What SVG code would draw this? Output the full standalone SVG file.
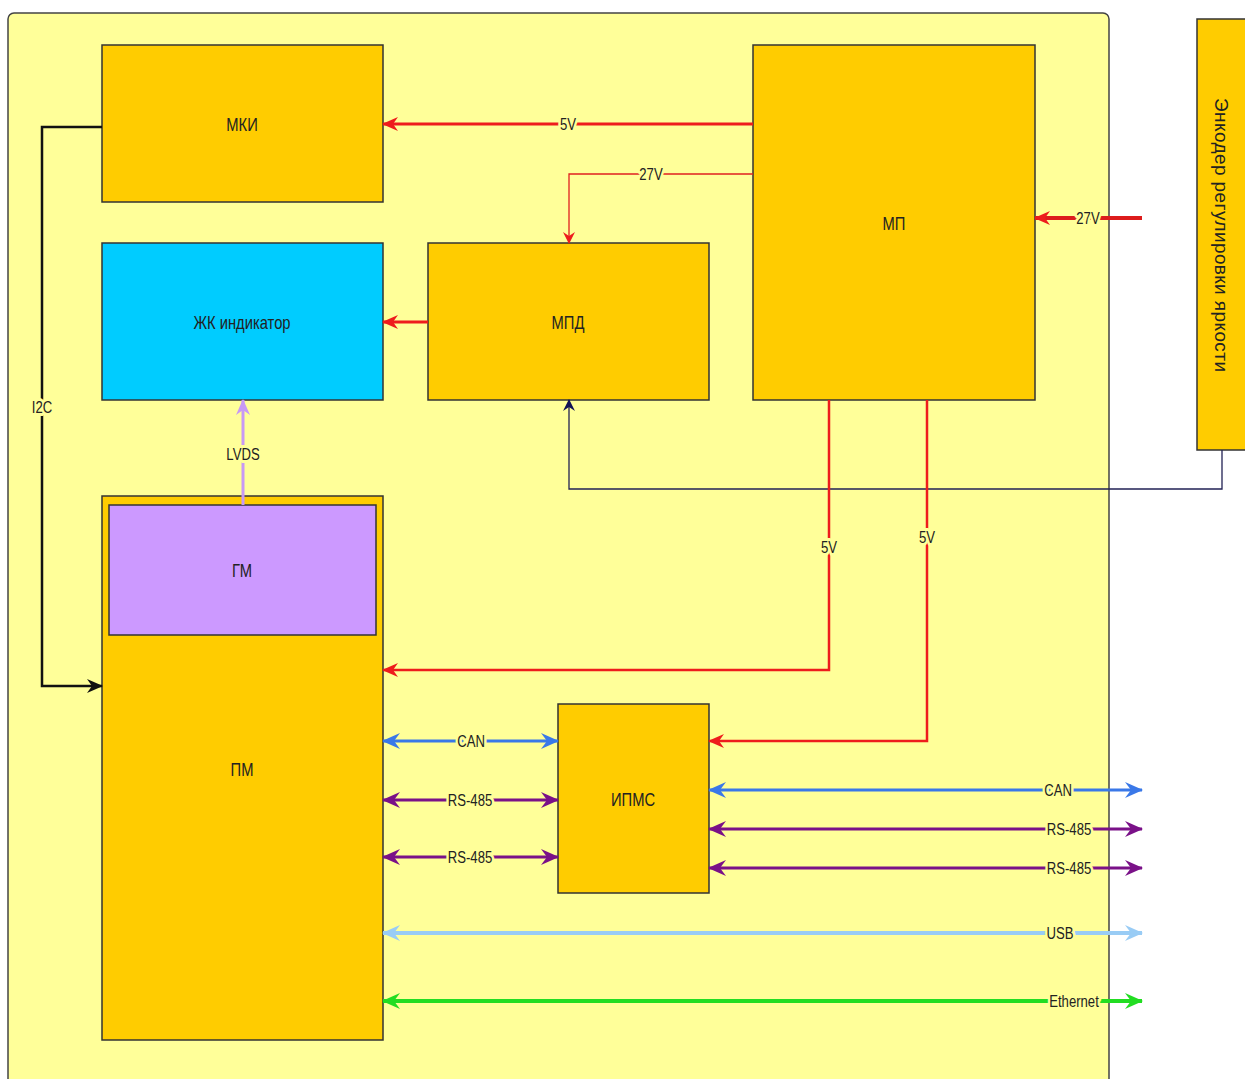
<svg xmlns="http://www.w3.org/2000/svg" width="1245" height="1079" viewBox="0 0 1245 1079">
<style>
.box{fill:#ffcc00;stroke:#333;stroke-width:1.5}
.nt{font-family:"Liberation Sans",Arial,sans-serif;font-size:18px;fill:#222;text-anchor:middle;dominant-baseline:central}
.lb{font-family:"Liberation Sans",Arial,sans-serif;font-size:16px;fill:#222;text-anchor:middle;dominant-baseline:central;paint-order:stroke;stroke:#ffff99;stroke-width:6px;stroke-linejoin:round}
.c{fill:none}
</style>
<defs>
<marker id="aR" markerUnits="userSpaceOnUse" markerWidth="16" markerHeight="14" refX="15" refY="7" orient="auto-start-reverse"><path d="M0,0 L16,7 L0,14 L5,7z" fill="#ee1c1c"/></marker>
<marker id="aRs" markerUnits="userSpaceOnUse" markerWidth="12" markerHeight="12" refX="11" refY="6" orient="auto-start-reverse"><path d="M0,0 L12,6 L0,12 L4,6z" fill="#ee1c1c"/></marker>
<marker id="aK" markerUnits="userSpaceOnUse" markerWidth="16" markerHeight="14" refX="15" refY="7" orient="auto-start-reverse"><path d="M0,0 L16,7 L0,14 L5,7z" fill="#111"/></marker>
<marker id="aN" markerUnits="userSpaceOnUse" markerWidth="12" markerHeight="12" refX="11" refY="6" orient="auto-start-reverse"><path d="M0,0 L12,6 L0,12 L4,6z" fill="#111155"/></marker>
<marker id="aL" markerUnits="userSpaceOnUse" markerWidth="16" markerHeight="14" refX="15" refY="7" orient="auto-start-reverse"><path d="M0,0 L16,7 L0,14 L5,7z" fill="#c899f5"/></marker>
<marker id="aB" markerUnits="userSpaceOnUse" markerWidth="18" markerHeight="16" refX="17" refY="8" orient="auto-start-reverse"><path d="M0,0 L18,8 L0,16 L6,8z" fill="#3a78e8"/></marker>
<marker id="aP" markerUnits="userSpaceOnUse" markerWidth="18" markerHeight="16" refX="17" refY="8" orient="auto-start-reverse"><path d="M0,0 L18,8 L0,16 L6,8z" fill="#7a1188"/></marker>
<marker id="aU" markerUnits="userSpaceOnUse" markerWidth="18" markerHeight="16" refX="17" refY="8" orient="auto-start-reverse"><path d="M0,0 L18,8 L0,16 L6,8z" fill="#99ccf5"/></marker>
<marker id="aG" markerUnits="userSpaceOnUse" markerWidth="18" markerHeight="16" refX="17" refY="8" orient="auto-start-reverse"><path d="M0,0 L18,8 L0,16 L6,8z" fill="#22dd22"/></marker>
</defs>
<rect width="1245" height="1079" fill="#fff"/>
<rect id="container" x="8" y="13" width="1101" height="1090" rx="6" fill="#ffff99" stroke="#444" stroke-width="1.5"/>

<g id="nodes">
<g id="mki"><rect class="box" x="102" y="45" width="281" height="157"/><text class="nt" transform="translate(242 124) scale(.82 1)">МКИ</text></g>
<g id="lcd"><rect class="box" x="102" y="243" width="281" height="157" style="fill:#00ccff"/><text class="nt" transform="translate(242 322) scale(.82 1)">ЖК индикатор</text></g>
<g id="mpd"><rect class="box" x="428" y="243" width="281" height="157"/><text class="nt" transform="translate(568 322) scale(.82 1)">МПД</text></g>
<g id="mp"><rect class="box" x="753" y="45" width="282" height="355"/><text class="nt" transform="translate(894 223) scale(.82 1)">МП</text></g>
<g id="encoder"><rect class="box" x="1197" y="19" width="60" height="431"/><text x="1221" y="235" transform="rotate(90 1221 235)" textLength="274" lengthAdjust="spacing" style="font-family:'Liberation Sans',Arial,sans-serif;font-size:19px;fill:#222;text-anchor:middle;dominant-baseline:central">Энкодер регулировки яркости</text></g>
<g id="pm"><rect class="box" x="102" y="496" width="281" height="544"/><text class="nt" transform="translate(242 769) scale(.82 1)">ПМ</text></g>
<g id="gm"><rect class="box" x="109" y="505" width="267" height="130" style="fill:#cc99ff"/><text class="nt" transform="translate(242 570) scale(.82 1)">ГМ</text></g>
<g id="ipms"><rect class="box" x="558" y="704" width="151" height="189"/><text class="nt" transform="translate(633 799) scale(.82 1)">ИПМС</text></g>
</g>

<g id="connectors">
<path class="c" d="M753,124 H383" stroke="#ee1c1c" stroke-width="3" marker-end="url(#aR)"/>
<text class="lb" transform="translate(568 125) scale(.82 1)">5V</text>
<path class="c" d="M753,174 H569 V243" stroke="#e02020" stroke-width="1.3" marker-end="url(#aRs)"/>
<text class="lb" transform="translate(651 175) scale(.82 1)">27V</text>
<path class="c" d="M428,322 H383" stroke="#ee1c1c" stroke-width="3" marker-end="url(#aR)"/>
<path class="c" d="M1142,218 H1035" stroke="#dd1c1c" stroke-width="4" marker-end="url(#aR)"/>
<text class="lb" transform="translate(1088 219) scale(.82 1)">27V</text>
<path class="c" d="M1222,450 V489 H569 V400" stroke="#222255" stroke-width="1.3" marker-end="url(#aN)"/>
<path class="c" d="M102,127 H42 V686 H102" stroke="#111" stroke-width="2.5" marker-end="url(#aK)"/>
<text class="lb" transform="translate(42 408) scale(.82 1)">I2C</text>
<path class="c" d="M243,505 V400" stroke="#c899f5" stroke-width="3" marker-end="url(#aL)"/>
<text class="lb" transform="translate(243 455) scale(.82 1)">LVDS</text>
<path class="c" d="M829,400 V670 H383" stroke="#ee1c1c" stroke-width="2.5" marker-end="url(#aR)"/>
<text class="lb" transform="translate(829 548) scale(.82 1)">5V</text>
<path class="c" d="M927,400 V741 H709" stroke="#ee1c1c" stroke-width="2.5" marker-end="url(#aR)"/>
<text class="lb" transform="translate(927 538) scale(.82 1)">5V</text>
<path class="c" d="M383,741 H558" stroke="#3a78e8" stroke-width="3" marker-start="url(#aB)" marker-end="url(#aB)"/>
<text class="lb" transform="translate(471 742) scale(.82 1)">CAN</text>
<path class="c" d="M383,800 H558" stroke="#7a1188" stroke-width="3" marker-start="url(#aP)" marker-end="url(#aP)"/>
<text class="lb" transform="translate(470 801) scale(.82 1)">RS-485</text>
<path class="c" d="M383,857 H558" stroke="#7a1188" stroke-width="3" marker-start="url(#aP)" marker-end="url(#aP)"/>
<text class="lb" transform="translate(470 858) scale(.82 1)">RS-485</text>
<path class="c" d="M709,790 H1142" stroke="#3a78e8" stroke-width="3" marker-start="url(#aB)" marker-end="url(#aB)"/>
<text class="lb" transform="translate(1058 791) scale(.82 1)">CAN</text>
<path class="c" d="M709,829 H1142" stroke="#7a1188" stroke-width="3" marker-start="url(#aP)" marker-end="url(#aP)"/>
<text class="lb" transform="translate(1069 830) scale(.82 1)">RS-485</text>
<path class="c" d="M709,868 H1142" stroke="#7a1188" stroke-width="3" marker-start="url(#aP)" marker-end="url(#aP)"/>
<text class="lb" transform="translate(1069 869) scale(.82 1)">RS-485</text>
<path class="c" d="M383,933 H1142" stroke="#99ccf5" stroke-width="4" marker-start="url(#aU)" marker-end="url(#aU)"/>
<text class="lb" transform="translate(1060 934) scale(.82 1)">USB</text>
<path class="c" d="M383,1001 H1142" stroke="#22dd22" stroke-width="4" marker-start="url(#aG)" marker-end="url(#aG)"/>
<text class="lb" transform="translate(1074 1002) scale(.82 1)">Ethernet</text>
</g>
</svg>
